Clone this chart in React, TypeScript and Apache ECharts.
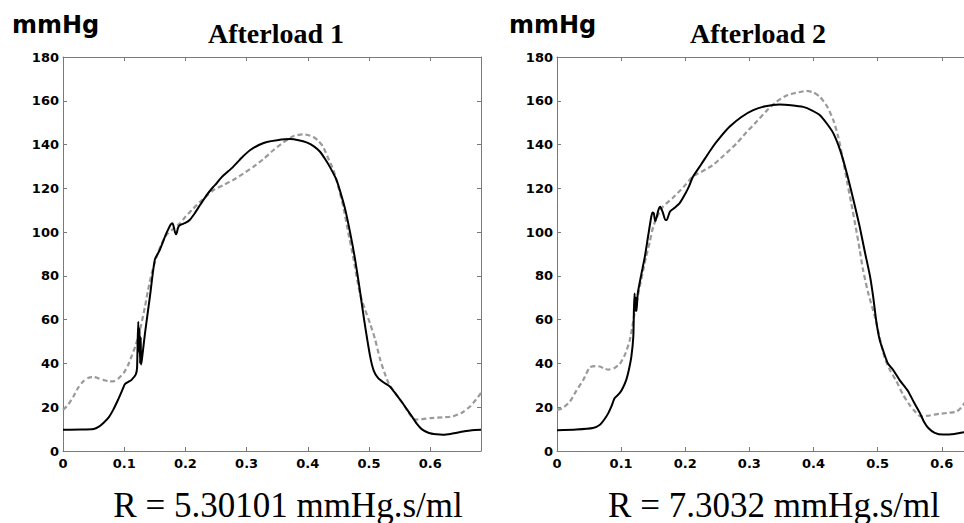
import React, { useEffect, useRef } from "react";
import * as echarts from "echarts";

// Afterload 1 — solid black curve [time s, pressure mmHg]
const a1Solid: [number, number][] = [
  [0, 9.7], [0.03, 9.8], [0.05, 10.1], [0.058, 11], [0.066, 12.8], [0.075, 15.5], [0.082, 18.8],
  [0.09, 23.4], [0.096, 27.2], [0.101, 30.5], [0.106, 31.5], [0.112, 32.5], [0.119, 35],
  [0.121, 38], [0.122, 50], [0.123, 59], [0.1245, 45], [0.125, 56], [0.126, 40], [0.127, 52],
  [0.1275, 39.5], [0.129, 42], [0.134, 53.8], [0.142, 70.5], [0.15, 87.3], [0.158, 91.8],
  [0.164, 96], [0.169, 99.5], [0.176, 103.5], [0.179, 104], [0.183, 100], [0.185, 99],
  [0.188, 102], [0.191, 103.2], [0.2, 104.2], [0.207, 105.5], [0.215, 108.5], [0.224, 112.4],
  [0.235, 117], [0.245, 120.5], [0.251, 122.3], [0.259, 125], [0.278, 129.8], [0.292, 134],
  [0.306, 137.5], [0.32, 139.8], [0.333, 141.2], [0.35, 142], [0.371, 142.5], [0.385, 142],
  [0.398, 141], [0.41, 139.2], [0.42, 136.7], [0.428, 133.5], [0.436, 129.8], [0.447, 123.8],
  [0.453, 118.5], [0.461, 110.5], [0.469, 100], [0.477, 88], [0.485, 73.6], [0.492, 60],
  [0.502, 43], [0.508, 36.5], [0.515, 33.3], [0.524, 31.3], [0.534, 29.5], [0.544, 26],
  [0.553, 22.6], [0.562, 19], [0.57, 15.8], [0.578, 12.5], [0.586, 10], [0.598, 8.2],
  [0.61, 7.6], [0.621, 7.4], [0.635, 7.9], [0.654, 8.9], [0.668, 9.5], [0.683, 9.7],
];

// Afterload 1 — dashed grey curve
const a1Dashed: [number, number][] = [
  [0, 18.8], [0.008, 21], [0.017, 24.9], [0.025, 29], [0.033, 31.8], [0.042, 33.5], [0.05, 33.8],
  [0.058, 33.2], [0.066, 32.5], [0.075, 31.8], [0.082, 31.8], [0.09, 33], [0.099, 35.6],
  [0.106, 39], [0.112, 43.2], [0.118, 47.7], [0.123, 52.3], [0.128, 58], [0.134, 66],
  [0.139, 73.6], [0.145, 81.2], [0.153, 88.8], [0.161, 94.5], [0.169, 98.7], [0.18, 101.5],
  [0.191, 104], [0.2, 107], [0.212, 110.5], [0.224, 113.9], [0.235, 116.5], [0.246, 119.2],
  [0.262, 121.5], [0.278, 123.8], [0.295, 126.8], [0.311, 129.8], [0.328, 133.5], [0.344, 137.5],
  [0.36, 141], [0.376, 143.8], [0.393, 144.7], [0.409, 143.5], [0.418, 141.5], [0.425, 139],
  [0.433, 134], [0.442, 128.3], [0.45, 120.5], [0.458, 111.6], [0.466, 100], [0.474, 88.8],
  [0.485, 72], [0.493, 65], [0.502, 58], [0.51, 51], [0.518, 42], [0.525, 36], [0.532, 31],
  [0.544, 26], [0.556, 21.5], [0.566, 17], [0.575, 14.3], [0.588, 14.6], [0.6, 15], [0.62, 15.4],
  [0.637, 15.8], [0.652, 17.5], [0.665, 20.3], [0.675, 23.5], [0.683, 26.5],
];

// Afterload 2 — solid black curve
const a2Solid: [number, number][] = [
  [0, 9.5], [0.03, 9.8], [0.056, 10.5], [0.067, 12], [0.074, 14.5], [0.08, 17.3], [0.085, 20.5],
  [0.09, 24.2], [0.098, 26.5], [0.103, 29], [0.108, 32.5], [0.112, 37], [0.116, 43.2],
  [0.119, 52.3], [0.12, 65], [0.121, 72], [0.122, 64], [0.123, 70], [0.124, 64], [0.126, 72.1],
  [0.131, 80], [0.137, 88.8], [0.142, 98], [0.147, 107], [0.149, 109], [0.151, 108.6],
  [0.153, 105], [0.155, 106.3], [0.158, 110], [0.161, 111.6], [0.165, 109], [0.169, 105.5],
  [0.171, 105.5], [0.176, 109.3], [0.183, 111], [0.191, 113.1], [0.2, 117.5], [0.206, 121],
  [0.212, 125.3], [0.225, 131], [0.243, 139], [0.255, 143.5], [0.269, 148.1], [0.287, 152.5],
  [0.306, 155.7], [0.325, 157.5], [0.347, 158.3], [0.365, 158], [0.384, 157.2], [0.398, 155.5],
  [0.41, 153.4], [0.421, 149.5], [0.431, 145.1], [0.442, 137], [0.452, 126.8], [0.462, 115],
  [0.472, 102.5], [0.48, 91], [0.488, 80], [0.493, 70.5], [0.498, 59], [0.503, 51],
  [0.509, 45.5], [0.516, 40], [0.524, 37.1], [0.534, 32.5], [0.547, 27.5], [0.557, 22],
  [0.566, 17.3], [0.572, 13.5], [0.579, 10.5], [0.589, 8.3], [0.602, 7.5], [0.62, 7.8],
  [0.637, 8.7], [0.66, 9.5], [0.683, 9.8],
];

// Afterload 2 — dashed grey curve
const a2Dashed: [number, number][] = [
  [0, 18.8], [0.008, 19.5], [0.02, 22.5], [0.03, 27.5], [0.041, 32.5], [0.051, 38.2], [0.06, 38.8],
  [0.067, 38.6], [0.074, 37.6], [0.08, 37.2], [0.089, 37.8], [0.098, 39.8], [0.106, 44],
  [0.113, 50], [0.117, 56], [0.121, 63], [0.125, 69], [0.129, 75.1], [0.134, 82], [0.139, 88.8],
  [0.145, 96], [0.15, 102.5], [0.157, 107.5], [0.165, 111.6], [0.18, 115.5], [0.197, 120.5],
  [0.212, 125.5], [0.228, 128], [0.243, 130.6], [0.26, 135], [0.28, 140.5], [0.295, 145.5],
  [0.311, 150.4], [0.327, 155.5], [0.342, 159.5], [0.355, 162], [0.368, 163.3], [0.389, 164.5],
  [0.4, 163.8], [0.41, 161.8], [0.421, 157.5], [0.431, 151.1], [0.439, 143], [0.446, 132.9],
  [0.453, 122], [0.459, 113], [0.466, 102], [0.472, 92], [0.477, 83], [0.485, 72.5],
  [0.496, 61], [0.503, 52], [0.511, 42.5], [0.52, 36.5], [0.529, 32], [0.54, 25.5],
  [0.55, 21], [0.559, 17.8], [0.567, 15.8], [0.58, 16.2], [0.597, 17], [0.612, 17.5],
  [0.623, 18], [0.63, 19.8], [0.637, 22.5],
];

const panelTitles = ["Afterload 1", "Afterload 2"];
const resistanceLabels = ["R = 5.30101 mmHg.s/ml", "R = 7.3032 mmHg.s/ml"];
const unitLabel = "mmHg";
const yTicks = { min: 0, max: 180, interval: 20 };
const xTicks = { min: 0, max: 0.683, interval: 0.1 };

const AXIS_COLOR = "#7a7a7a";
const LABEL_FONT = "DejaVu Sans";

function xFormatter(v: number): string {
  const r = Math.round(v * 10) / 10;
  if (Math.abs(v - r) > 1e-6) return "";
  return r === 0 ? "0" : r.toFixed(1);
}

function makeXAxis(gridIndex: number, top: boolean) {
  return {
    type: "value",
    gridIndex,
    position: top ? "top" : "bottom",
    min: xTicks.min,
    max: xTicks.max,
    interval: xTicks.interval,
    axisLine: { show: true, onZero: false, lineStyle: { color: AXIS_COLOR, width: 1 } },
    axisTick: { show: true, inside: true, length: 4, lineStyle: { color: AXIS_COLOR } },
    splitLine: { show: false },
    axisLabel: top
      ? { show: false }
      : {
          show: true,
          margin: 6,
          color: "#000",
          fontFamily: LABEL_FONT,
          fontWeight: "bold",
          fontSize: 13,
          showMaxLabel: false,
          formatter: xFormatter,
        },
  };
}

function makeYAxis(gridIndex: number, right: boolean) {
  return {
    type: "value",
    gridIndex,
    position: right ? "right" : "left",
    min: yTicks.min,
    max: yTicks.max,
    interval: yTicks.interval,
    axisLine: { show: true, onZero: false, lineStyle: { color: AXIS_COLOR, width: 1 } },
    axisTick: { show: true, inside: true, length: 4, lineStyle: { color: AXIS_COLOR } },
    splitLine: { show: false },
    axisLabel: right
      ? { show: false }
      : {
          show: true,
          margin: 4,
          color: "#000",
          fontFamily: LABEL_FONT,
          fontWeight: "bold",
          fontSize: 13,
        },
  };
}

export default function App() {
  const ref = useRef<HTMLDivElement>(null);

  useEffect(() => {
    document.body.style.margin = "0";
    if (!ref.current) return;
    const chart = echarts.init(ref.current, undefined, { renderer: "svg" });

    const solidStyle = { color: "#000", width: 2 };
    const dashedStyle = { color: "#9a9a9a", width: 2.2, type: [5, 3] as any };

    const line = (data: [number, number][], xi: number, yi: number, style: any) => ({
      type: "line",
      xAxisIndex: xi,
      yAxisIndex: yi,
      data,
      showSymbol: false,
      symbol: "none",
      smooth: 0.2,
      lineStyle: style,
      itemStyle: { color: style.color },
      silent: true,
    });

    const textEl = (text: string, x: number, y: number, font: string, align: string) => ({
      type: "text",
      x,
      y,
      style: { text, font, fill: "#000", align, verticalAlign: "middle" },
    });

    chart.setOption({
      animation: false,
      backgroundColor: "#fff",
      grid: [
        { left: 63, top: 57, width: 418, height: 394, containLabel: false },
        { left: 557, top: 57, width: 438, height: 394, containLabel: false },
      ],
      xAxis: [makeXAxis(0, false), makeXAxis(0, true), makeXAxis(1, false), makeXAxis(1, true)],
      yAxis: [makeYAxis(0, false), makeYAxis(0, true), makeYAxis(1, false), makeYAxis(1, true)],
      series: [
        line(a1Dashed, 0, 0, dashedStyle),
        line(a1Solid, 0, 0, solidStyle),
        line(a2Dashed, 2, 2, dashedStyle),
        line(a2Solid, 2, 2, solidStyle),
      ],
      graphic: [
        textEl(unitLabel, 12, 25, `bold 24px "${LABEL_FONT}"`, "left"),
        textEl(unitLabel, 509, 25, `bold 24px "${LABEL_FONT}"`, "left"),
        textEl(panelTitles[0], 276, 33, 'bold 28px "Liberation Serif"', "center"),
        textEl(panelTitles[1], 758, 33, 'bold 28px "Liberation Serif"', "center"),
        textEl(resistanceLabels[0], 288, 505, '35px "Liberation Serif"', "center"),
        textEl(resistanceLabels[1], 774, 505, '35px "Liberation Serif"', "center"),
      ],
    });

    return () => chart.dispose();
  }, []);

  return (
    <div style={{ width: 964, height: 523, overflow: "hidden", position: "relative" }}>
      <div ref={ref} style={{ width: 1000, height: 523 }} />
    </div>
  );
}
